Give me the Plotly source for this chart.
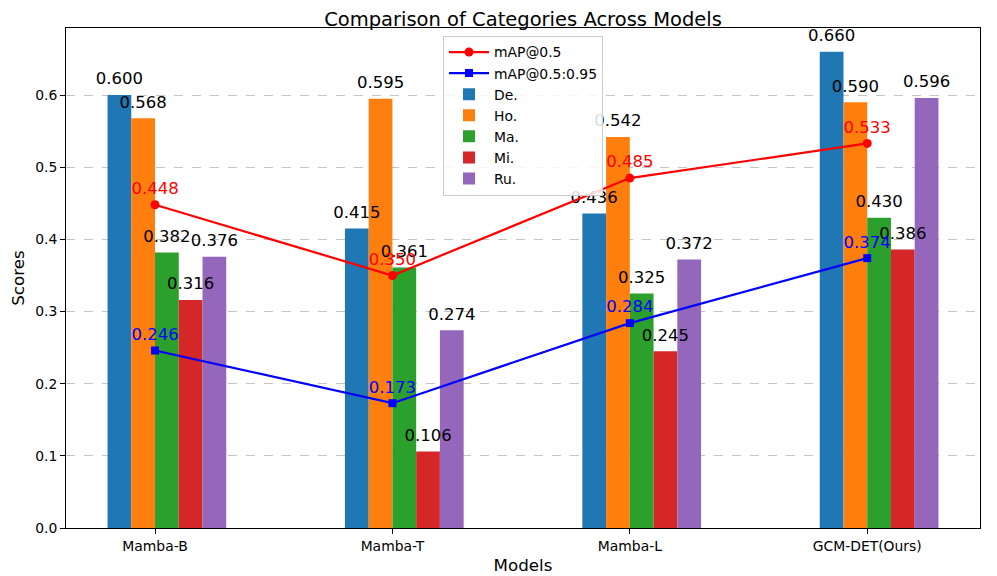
import numpy as np
import plotly.graph_objects as go

models = ["Mamba-B", "Mamba-T", "Mamba-L", "GCM-DET(Ours)"]
categories = ["De.", "Ho.", "Ma.", "Mi.", "Ru."]
de = [0.600, 0.415, 0.436, 0.660]
ho = [0.568, 0.595, 0.542, 0.590]
ma = [0.382, 0.361, 0.325, 0.430]
mi = [0.316, 0.106, 0.245, 0.386]
ru = [0.376, 0.274, 0.372, 0.596]
map50 = [0.448, 0.350, 0.485, 0.533]
map5095 = [0.246, 0.173, 0.284, 0.374]
yticks = [0.0, 0.1, 0.2, 0.3, 0.4, 0.5, 0.6]

series = [de, ho, ma, mi, ru]
colors = ["#1f77b4", "#ff7f0e", "#2ca02c", "#d62728", "#9467bd"]
width = 0.1
idx = np.arange(len(models))
line_x = idx + 1.5 * width
FONT = "DejaVu Sans"
OFF = 0.009

fig = go.Figure()

for k, (name, vals, col) in enumerate(zip(categories, series, colors)):
    xs = idx + k * width
    fig.add_trace(go.Bar(x=xs, y=vals, width=width, name=name, marker_color=col,
                         marker_line_width=0, legendrank=10 + k))

for k, vals in enumerate(series):
    xs = idx + k * width
    fig.add_trace(go.Scatter(x=xs, y=[v + OFF for v in vals], mode="text",
                             text=[f"{v:.3f}" for v in vals], textposition="top center",
                             textfont=dict(size=16.5, color="black", family=FONT),
                             showlegend=False, hoverinfo="skip"))

fig.add_trace(go.Scatter(x=line_x, y=map50, mode="lines+markers", name="mAP@0.5",
                         line=dict(color="red", width=2.2),
                         marker=dict(symbol="circle", size=9, color="red"), legendrank=1))
fig.add_trace(go.Scatter(x=line_x, y=map5095, mode="lines+markers", name="mAP@0.5:0.95",
                         line=dict(color="blue", width=2.2),
                         marker=dict(symbol="square", size=8, color="blue"), legendrank=2))

fig.add_trace(go.Scatter(x=line_x, y=[v + OFF for v in map50], mode="text",
                         text=[f"{v:.3f}" for v in map50], textposition="top center",
                         textfont=dict(size=16.5, color="red", family=FONT),
                         showlegend=False, hoverinfo="skip"))
fig.add_trace(go.Scatter(x=line_x, y=[v + OFF for v in map5095], mode="text",
                         text=[f"{v:.3f}" for v in map5095], textposition="top center",
                         textfont=dict(size=16.5, color="blue", family=FONT),
                         showlegend=False, hoverinfo="skip"))

fig.update_layout(
    width=989, height=568,
    margin=dict(l=58, r=17, t=20, b=48, autoexpand=False),
    paper_bgcolor="white", plot_bgcolor="white",
    barmode="overlay",
    font=dict(family=FONT, color="black"),
    title=dict(text="Comparison of Categories Across Models", x=0.5, xanchor="center",
               xref="paper", yref="paper", y=1, yanchor="bottom", pad=dict(b=2),
               automargin=False,
               font=dict(size=19.5, family=FONT, color="black")),
    legend=dict(x=0.5, xanchor="center", y=0.985, yanchor="top",
                bgcolor="rgba(255,255,255,0.85)", bordercolor="#cccccc", borderwidth=1,
                font=dict(size=13.9, family=FONT), tracegroupgap=0, itemwidth=40),
    showlegend=True,
)

fig.update_xaxes(range=[-0.225, 3.625], tickmode="array", tickvals=list(line_x), ticktext=models,
                 showline=True, linecolor="black", linewidth=1, mirror=True, automargin=False,
                 ticks="outside", ticklen=5, tickcolor="black", showgrid=False, zeroline=False,
                 tickfont=dict(size=13.9, family=FONT),
                 title=dict(text="Models", font=dict(size=16.7, family=FONT), standoff=6))
fig.update_yaxes(range=[0, 0.693], tickmode="array", tickvals=yticks,
                 ticktext=[f"{t:.1f}" for t in yticks], automargin=False,
                 showline=True, linecolor="black", linewidth=1, mirror=True,
                 ticks="outside", ticklen=5, tickcolor="black",
                 showgrid=True, gridcolor="rgba(176,176,176,0.75)", griddash="dash", gridwidth=1,
                 zeroline=False,
                 tickfont=dict(size=13.9, family=FONT),
                 title=dict(text="Scores", font=dict(size=16.7, family=FONT), standoff=8))

fig.write_html("out.html")
